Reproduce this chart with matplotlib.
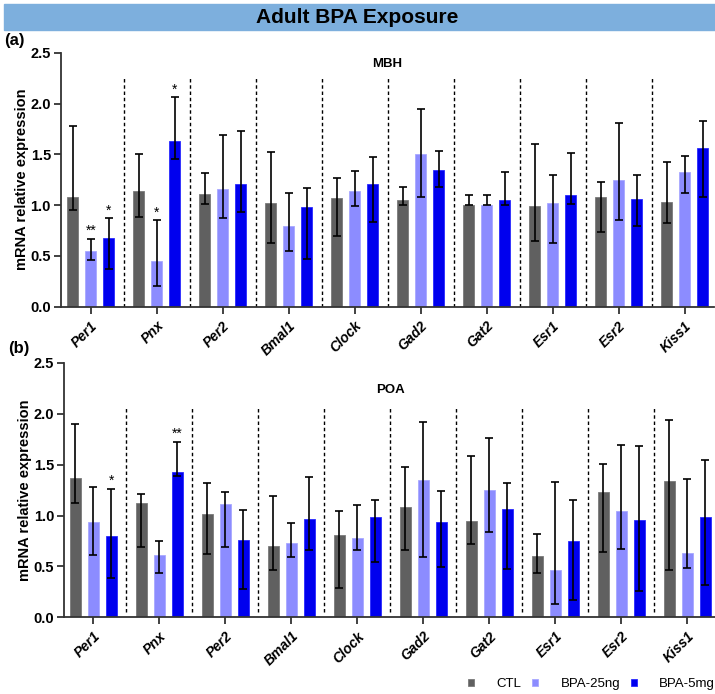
import numpy as np
import matplotlib
matplotlib.use("Agg")
import matplotlib.pyplot as plt
from matplotlib.patches import Rectangle

plt.rcParams['font.family'] = ['Liberation Sans', 'DejaVu Sans']

# data (mean, lower and upper end of error bar)

genes = ['Per1', 'Pnx', 'Per2', 'Bmal1', 'Clock', 'Gad2', 'Gat2', 'Esr1', 'Esr2', 'Kiss1']
groups = ['CTL', 'BPA-25ng', 'BPA-5mg']

mbh_ctl = [1.08, 1.14, 1.11, 1.02, 1.07, 1.05, 1.00, 0.99, 1.08, 1.03]
mbh_ctl_lo = [0.95, 0.88, 1.01, 0.63, 0.70, 1.00, 1.00, 0.65, 0.74, 0.82]
mbh_ctl_hi = [1.78, 1.50, 1.32, 1.52, 1.27, 1.18, 1.10, 1.60, 1.23, 1.42]

mbh_25 = [0.55, 0.45, 1.16, 0.79, 1.14, 1.50, 1.00, 1.02, 1.25, 1.33]
mbh_25_lo = [0.46, 0.20, 0.87, 0.55, 0.99, 1.08, 1.00, 0.63, 0.85, 1.12]
mbh_25_hi = [0.67, 0.85, 1.69, 1.12, 1.34, 1.95, 1.10, 1.30, 1.81, 1.48]

mbh_5 = [0.68, 1.63, 1.21, 0.98, 1.21, 1.35, 1.05, 1.10, 1.06, 1.56]
mbh_5_lo = [0.37, 1.45, 0.93, 0.47, 0.83, 1.18, 1.00, 1.01, 0.79, 1.08]
mbh_5_hi = [0.87, 2.06, 1.73, 1.17, 1.47, 1.53, 1.33, 1.51, 1.30, 1.83]

poa_ctl = [1.37, 1.12, 1.02, 0.70, 0.81, 1.08, 0.95, 0.60, 1.23, 1.34]
poa_ctl_lo = [1.12, 0.69, 0.62, 0.46, 0.29, 0.66, 0.72, 0.44, 0.64, 0.46]
poa_ctl_hi = [1.90, 1.21, 1.32, 1.19, 1.04, 1.48, 1.59, 0.82, 1.51, 1.94]

poa_25 = [0.94, 0.61, 1.11, 0.73, 0.78, 1.35, 1.25, 0.46, 1.04, 0.63]
poa_25_lo = [0.61, 0.44, 0.69, 0.59, 0.66, 0.59, 0.84, 0.13, 0.67, 0.48]
poa_25_hi = [1.28, 0.75, 1.23, 0.93, 1.10, 1.92, 1.76, 1.33, 1.69, 1.36]

poa_5 = [0.80, 1.43, 0.76, 0.97, 0.99, 0.94, 1.06, 0.75, 0.96, 0.99]
poa_5_lo = [0.39, 1.39, 0.28, 0.66, 0.54, 0.49, 0.47, 0.17, 0.26, 0.32]
poa_5_hi = [1.26, 1.72, 1.05, 1.38, 1.15, 1.24, 1.32, 1.15, 1.68, 1.55]

# significance marks: (gene index, group index, label)
mbh_stars = [(0, 1, '**'), (0, 2, '*'), (1, 1, '*'), (1, 2, '*')]
poa_stars = [(0, 2, '*'), (1, 2, '**')]

colors = ['#606060', '#8c8cff', '#0000ee']
edges = ['#7a7a7a', '#a8a8ff', '#2a2aff']

fig = plt.figure(figsize=(7.15, 6.94), dpi=100)

# title banner
fig.patches.append(Rectangle((4 / 715, 1 - 30 / 694), 711 / 715, 26 / 694,
                             transform=fig.transFigure, color='#7dafdd', zorder=0))
fig.text(357 / 715, 1 - 17.5 / 694, 'Adult BPA Exposure', ha='center', va='center',
         fontsize=15, fontweight='bold')


def draw_panel(ax, means, los, his, stars, region, region_y, sep_top, sep_bottom):
    x = np.arange(len(genes))
    offsets = [-0.273, 0, 0.273]
    bars = []
    for i in range(3):
        m = np.array(means[i])
        err = [m - np.array(los[i]), np.array(his[i]) - m]
        b = ax.bar(x + offsets[i], m, width=0.172, color=colors[i], edgecolor=edges[i],
                   linewidth=0.6, label=groups[i], zorder=2)
        ax.errorbar(x + offsets[i], m, yerr=err, fmt='none', ecolor='black',
                    elinewidth=1.2, capsize=2.8, capthick=1.2, zorder=3)
        bars.append(b)
    for gi, si, lab in stars:
        ax.text(gi + offsets[si], his[si][gi] + 0.01, lab, ha='center', va='bottom', fontsize=10)
    for k in range(len(genes) - 1):
        ax.plot([k + 0.5, k + 0.5], [sep_bottom, sep_top], color='black', lw=1,
                linestyle=(0, (2.5, 2)), zorder=1)
    ax.set_ylim(0, 2.5)
    ax.set_yticks([0, 0.5, 1.0, 1.5, 2.0, 2.5])
    ax.set_yticklabels(['0.0', '0.5', '1.0', '1.5', '2.0', '2.5'], fontweight='bold', fontsize=10.5)
    ax.set_xticks(x)
    ax.set_xticklabels(genes, rotation=45, ha='right', rotation_mode='anchor',
                       fontstyle='italic', fontweight='bold', fontsize=10)
    ax.set_ylabel('mRNA relative expression', fontweight='bold', fontsize=10.5, labelpad=1)
    for s in ['top', 'right']:
        ax.spines[s].set_visible(False)
    for s in ['left', 'bottom']:
        ax.spines[s].set_linewidth(1.3)
        ax.spines[s].set_color('#333333')
    ax.tick_params(axis='both', length=5, width=1.3, color='#333333')
    ax.tick_params(axis='y', pad=2)
    ax.text(4.5, region_y, region, ha='center', va='center', fontsize=9.5, fontweight='bold')
    return bars


ax1 = fig.add_axes([0.0849, 0.558, 0.914, 0.366])
ax1.set_xlim(-0.455, 9.45)
bars = draw_panel(ax1, [mbh_ctl, mbh_25, mbh_5], [mbh_ctl_lo, mbh_25_lo, mbh_5_lo],
                  [mbh_ctl_hi, mbh_25_hi, mbh_5_hi], mbh_stars, 'MBH', 2.39, 2.27, 0)

ax2 = fig.add_axes([0.0895, 0.1105, 0.9105, 0.3666])
ax2.set_xlim(-0.444, 9.42)
draw_panel(ax2, [poa_ctl, poa_25, poa_5], [poa_ctl_lo, poa_25_lo, poa_5_lo],
           [poa_ctl_hi, poa_25_hi, poa_5_hi], poa_stars, 'POA', 2.23, 2.08, 0.05)

fig.text(4 / 715, 1 - 40 / 694, '(a)', ha='left', va='center', fontsize=12, fontweight='bold')
fig.text(8 / 715, 1 - 348 / 694, '(b)', ha='left', va='center', fontsize=12, fontweight='bold')

fig.legend(handles=bars, labels=groups, ncol=3, loc='center right',
           bbox_to_anchor=(1.0, 10 / 694), frameon=False, fontsize=9.5,
           handlelength=0.45, handleheight=0.45, handletextpad=1.7,
           columnspacing=0.8, borderpad=0, borderaxespad=0)

fig.savefig('out.png', dpi=100)
